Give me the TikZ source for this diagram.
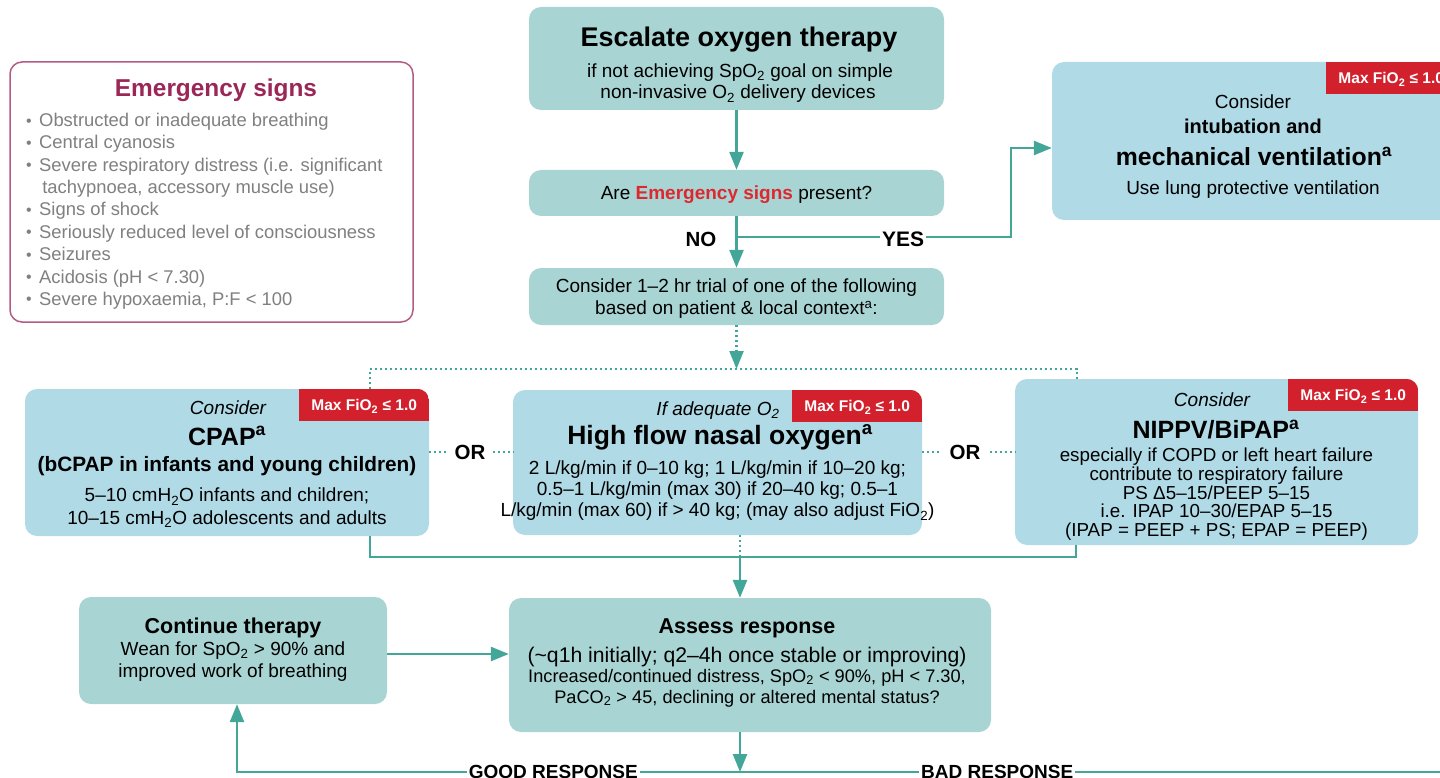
\documentclass[tikz,border=0pt]{standalone}
\usepackage{fontspec}
\setmainfont{Liberation Sans}
\usetikzlibrary{arrows.meta,calc}

\definecolor{tealfill}{RGB}{168,213,211}
\definecolor{bluefill}{RGB}{176,218,230}
\definecolor{linkteal}{RGB}{66,166,152}
\definecolor{tagred}{RGB}{211,32,45}
\definecolor{signred}{RGB}{222,40,48}
\definecolor{signtitle}{RGB}{155,38,88}
\definecolor{signedge}{RGB}{178,92,132}
\definecolor{signgray}{RGB}{128,128,128}

\newcommand{\fsz}[2]{\fontsize{#1}{#2}\selectfont}
\newcommand{\sbul}{\raisebox{0.5pt}{\fsz{16}{16}\textbullet}}
% red corner tag: #1 box, #2 tag name
\newcommand{\maxtag}[2]{%
  \begin{scope}
    \clip[rounded corners=12pt] (#1.south west) rectangle (#1.north east);
    \fill[tagred] (#1.north east) rectangle ++(-130,32);
  \end{scope}
  \node[tagtext] (#2) at ($(#1.north east)+(-65,22)$) {Max FiO\textsubscript{2} ≤ 1.0};
}

\begin{document}
\begin{tikzpicture}[x=1pt, y=-1pt,
    tealbox/.style={fill=tealfill, rounded corners=12pt, inner sep=0pt},
    bluebox/.style={fill=bluefill, rounded corners=12pt, inner sep=0pt},
    signbox/.style={draw=signedge, line width=1.5pt, fill=white, rounded corners=12pt, inner sep=0pt},
    txt/.style={anchor=base, inner sep=0pt, font=\fsz{19}{22}},
    signtxt/.style={anchor=base west, inner sep=0pt, text=signgray, font=\fsz{18.4}{22}},
    tagtext/.style={anchor=base, inner sep=0pt, text=white, font=\bfseries\fsz{15.5}{18}},
    lbl/.style={anchor=base, inner sep=2pt, font=\bfseries\fsz{20.5}{24}},
    link/.style={draw=linkteal, line width=2.6pt},
    arrow/.style={link, -{Triangle[length=18pt,width=14pt]}},
    dots/.style={draw=linkteal, line width=2.2pt, dash pattern=on 2.2pt off 2.8pt},
    dotarrow/.style={dots, -{Triangle[length=18pt,width=14pt]}}
  ]
  \useasboundingbox (0,0) rectangle (1440,778);
  \clip (0,0) rectangle (1440,778);

  % --- Emergency signs ---
  \node[signbox, minimum width=403pt, minimum height=260pt] (signs) at (211.5,192) {};
  \node[txt, text=signtitle, font=\bfseries\fsz{24.4}{28}] (signstitle) at (216,96.8) {Emergency signs};
  \foreach \bul/\signline [count=\i] in {\sbul/Obstructed or inadequate breathing, \sbul/Central cyanosis,
      \sbul/Severe respiratory distress (i.e. significant, {}/{\,tachypnoea, accessory muscle use)},
      \sbul/Signs of shock, \sbul/Seriously reduced level of consciousness, \sbul/Seizures,
      \sbul/Acidosis (pH < 7.30), \sbul/{Severe hypoxaemia, P:F < 100}}
    \node[signtxt] (sign\i) at (26,126.6+22.35*\i-22.35) {\makebox[13pt][l]{\bul}\signline};

  % --- top column ---
  \node[tealbox, minimum width=415pt, minimum height=103pt] (esc) at (736.5,58.5) {};
  \node[txt, font=\bfseries\fsz{27}{30}] (esctitle) at (739,47) {Escalate oxygen therapy};
  \node[txt] (escsub1) at (740,77.5) {if not achieving SpO\textsubscript{2} goal on simple};
  \node[txt] (escsub2) at (738,99) {non-invasive O\textsubscript{2} delivery devices};

  \node[tealbox, minimum width=415pt, minimum height=46pt] (ask) at (736.5,193) {};
  \node[txt] (asktext) at (736.5,199.5) {Are \textcolor{signred}{\bfseries Emergency signs} present?};

  \node[tealbox, minimum width=415pt, minimum height=57pt] (trial) at (736.5,296.5) {};
  \node[txt] (trial1) at (736.5,292.3) {Consider 1–2 hr trial of one of the following};
  \node[txt] (trial2) at (736.5,314.3) {based on patient \& local context\textsuperscript{a}:};

  % --- intubation ---
  \node[bluebox, minimum width=404pt, minimum height=158pt] (intub) at (1254,141) {};
  \maxtag{intub}{intubtag}
  \node[txt] (intub1) at (1253,108.5) {Consider};
  \node[txt, font=\bfseries\fsz{20}{24}] (intub2) at (1253,133.5) {intubation and};
  \node[txt, font=\bfseries\fsz{24.8}{28}] (intub3) at (1254,165.5) {mechanical ventilation\textsuperscript{a}};
  \node[txt] (intub4) at (1253,195) {Use lung protective ventilation};

  \node[lbl] (no) at (701,246) {NO};
  \node[lbl, font=\bfseries\fsz{21}{24}] (yes) at (903,246) {YES};

  % --- three options ---
  \node[bluebox, minimum width=404pt, minimum height=147pt] (cpap) at (227,462.5) {};
  \maxtag{cpap}{cpaptag}
  \node[txt, font=\itshape\fsz{19}{22}] (cpap1) at (228,414.3) {Consider};
  \node[txt, font=\bfseries\fsz{25}{28}] (cpap2) at (227,445) {CPAP\textsuperscript{a}};
  \node[txt, font=\bfseries\fsz{20.8}{24}] (cpap3) at (227,471.7) {(bCPAP in infants and young children)};
  \node[txt] (cpap4) at (227,501.7) {5–10 cmH\textsubscript{2}O infants and children;};
  \node[txt] (cpap5) at (227,524) {10–15 cmH\textsubscript{2}O adolescents and adults};

  \node[bluebox, minimum width=409pt, minimum height=145pt] (hfno) at (717.5,462.5) {};
  \maxtag{hfno}{hfnotag}
  \node[txt, font=\itshape\fsz{19}{22}] (hfno1) at (718,415) {If adequate O\textsubscript{2}};
  \node[txt, font=\bfseries\fsz{26.5}{30}] (hfno2) at (720,444) {High flow nasal oxygen\textsuperscript{a}};
  \node[txt] (hfno3) at (717.5,474) {2 L/kg/min if 0–10 kg; 1 L/kg/min if 10–20 kg;};
  \node[txt] (hfno4) at (717.5,495.3) {0.5–1 L/kg/min (max 30) if 20–40 kg; 0.5–1};
  \node[txt] (hfno5) at (717.5,516.7) {L/kg/min (max 60) if > 40 kg; (may also adjust FiO\textsubscript{2})};

  \node[bluebox, minimum width=403pt, minimum height=166pt] (nippv) at (1216.5,462) {};
  \maxtag{nippv}{nippvtag}
  \node[txt, font=\itshape\fsz{19}{22}] (nippv1) at (1212,406) {Consider};
  \node[txt, font=\bfseries\fsz{25}{28}] (nippv2) at (1216,438.3) {NIPPV/BiPAP\textsuperscript{a}};
  \foreach \nline [count=\k] in {especially if COPD or left heart failure, contribute to respiratory failure,
      PS Δ5–15/PEEP 5–15, i.e. IPAP 10–30/EPAP 5–15, (IPAP = PEEP + PS; EPAP = PEEP)}
    \node[txt, font=\fsz{18.8}{19}] (nip\k) at (1216.5,461.7+18.75*\k-18.75) {\nline};

  \node[lbl, inner xsep=7pt] (or1) at (470,459.3) {OR};
  \node[lbl, inner xsep=9pt] (or2) at (965,459.3) {OR};

  % --- response loop ---
  \node[tealbox, minimum width=308pt, minimum height=107pt] (cont) at (233,650.5) {};
  \node[txt, font=\bfseries\fsz{21.5}{24}] (cont1) at (233,633) {Continue therapy};
  \node[txt] (cont2) at (233,655) {Wean for SpO\textsubscript{2} > 90\% and};
  \node[txt] (cont3) at (233,677) {improved work of breathing};

  \node[tealbox, minimum width=482pt, minimum height=134pt] (assess) at (750,665) {};
  \node[txt, font=\bfseries\fsz{21.5}{24}] (assess1) at (747,633) {Assess response};
  \node[txt, font=\fsz{21.2}{24}] (assess2) at (747,662) {(\textasciitilde q1h initially; q2–4h once stable or improving)};
  \node[txt, font=\fsz{18.2}{21}] (assess3) at (747,682) {Increased/continued distress, SpO\textsubscript{2} < 90\%, pH < 7.30,};
  \node[txt, font=\fsz{18.2}{21}] (assess4) at (747,703) {PaCO\textsubscript{2} > 45, declining or altered mental status?};

  \node[lbl, anchor=base east, font=\bfseries\fsz{19}{22}] (good) at (640,778.5) {GOOD RESPONSE};
  \node[lbl, anchor=base west, font=\bfseries\fsz{19}{22}] (bad) at (919,778.5) {BAD RESPONSE};

  % --- connectors ---
  \coordinate (nofork) at (736.5,237);
  \coordinate (yesturn) at (1011,237);
  \coordinate (dotfork) at (736.5,369);
  \coordinate (dotl) at (370,369);
  \coordinate (dotr) at (1077,369);
  \coordinate (botl) at (370,557);
  \coordinate (botm) at (740,557);
  \coordinate (botr) at (1076,557);
  \coordinate (resp) at (740,772);
  \coordinate (goodturn) at (237,772);
  \coordinate (badend) at (1445,772);

  \draw[arrow] (esc.south) -- (ask.north);
  \draw[arrow] (ask.south) -- (trial.north);
  \draw[link] (nofork) -- (nofork -| yes.west);
  \draw[arrow] (nofork -| yes.east) -- (yesturn) |- ($(intub.west)+(0,7)$);

  \draw[dotarrow] (trial.south) -- (dotfork);
  \draw[dots] (dotl |- cpap.north) -- (dotl) -- (dotr) -- (dotr |- nippv.north);
  \draw[dots] (cpap.east |- or1.west) -- (or1.west);
  \draw[dots] (or1.east) -- (hfno.west |- or1.east);
  \draw[dots] (hfno.east |- or2.west) -- (or2.west);
  \draw[dots] (or2.east) -- (nippv.west |- or2.east);

  \draw[link] (botl |- cpap.south) -- (botl) -- (botr) -- (botr |- nippv.south);
  \draw[dots] (botm |- hfno.south) -- (botm);
  \draw[arrow] (botm) -- (botm |- assess.north);
  \draw[arrow] ($(cont.east)+(0,3.5)$) -- ($(cont.east -| assess.west)+(0,3.5)$);

  \draw[arrow] (botm |- assess.south) -- (resp);
  \draw[link] (good.east |- resp) -- (bad.west |- resp);
  \draw[link] (bad.east |- resp) -- (badend);
  \draw[arrow] (good.west |- resp) -- (goodturn) -- (goodturn |- cont.south);
\end{tikzpicture}
\end{document}
